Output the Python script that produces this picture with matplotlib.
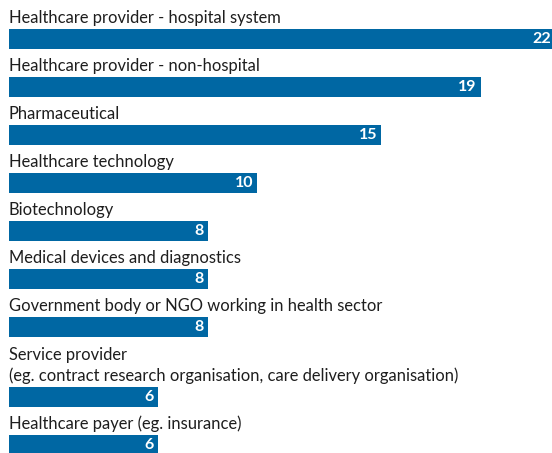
import matplotlib
matplotlib.use("Agg")
import matplotlib.pyplot as plt

categories = [
    "Healthcare provider - hospital system",
    "Healthcare provider - non-hospital",
    "Pharmaceutical",
    "Healthcare technology",
    "Biotechnology",
    "Medical devices and diagnostics",
    "Government body or NGO working in health sector",
    "Service provider\n(eg. contract research organisation, care delivery organisation)",
    "Healthcare payer (eg. insurance)",
]
values = [22, 19, 15, 10, 8, 8, 8, 6, 6]

W, H = 552, 453
BAR_COLOR = "#0067a3"
TEXT_COLOR = "#1e1e1e"

fig = plt.figure(figsize=(W / 100, H / 100), dpi=100)
left_px, right_px = 9, 555
ax = fig.add_axes([left_px / W, 0, (right_px - left_px) / W, 1])
ax.set_xlim(0, 22)
ax.set_ylim(H, 0)
ax.axis("off")

slot = 48
line_h = 22
bar_h = 19.5
top = 29
for cat, v in zip(categories, values):
    nlines = cat.count("\n") + 1
    top += (nlines - 1) * line_h
    ax.barh(top + bar_h / 2, v, height=bar_h, color=BAR_COLOR, left=0)
    ax.text(0, top - 6, cat, ha="left", va="baseline", fontsize=11.9,
            family="Lato", color=TEXT_COLOR, linespacing=1.3)
    ax.annotate(str(v), xy=(v, top + bar_h / 2 + 0.5), xytext=(-4, 0),
                textcoords="offset pixels", ha="right", va="center",
                fontsize=11.5, fontweight="bold", family="Lato", color="white")
    top += slot

fig.savefig("out.png", dpi=100)
